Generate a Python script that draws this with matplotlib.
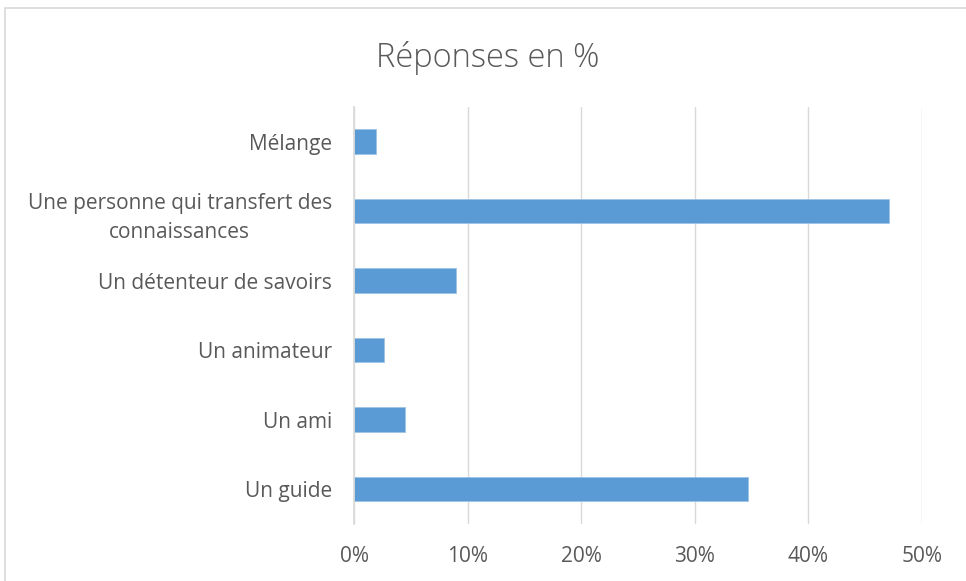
import matplotlib.pyplot as plt
from matplotlib.patches import Rectangle

# response categories, bottom to top
categories = ["Un guide", "Un ami", "Un animateur", "Un détenteur de savoirs",
              "Une personne qui transfert des\nconnaissances", "Mélange"]
percent = [34.7, 4.5, 2.6, 9.0, 47.1, 1.9]
xticks = [0, 10, 20, 30, 40, 50]
xtick_labels = ["0%", "10%", "20%", "30%", "40%", "50%"]

plt.rcParams["font.family"] = ["Open Sans", "DejaVu Sans"]
text_color = "#595959"
grid_color = "#d9d9d9"

fig = plt.figure(figsize=(9.66, 5.81), dpi=100)
ax = fig.add_axes([0.3665, 0.0985, 0.588, 0.7177])

ypos = range(len(categories))
ax.barh(ypos, percent, height=0.35, color="#5b9bd5", edgecolor="#9dc3e6", linewidth=0.6, zorder=3)

ax.set_xlim(0, 50)
ax.set_ylim(-0.5, len(categories) - 0.5)
ax.set_xticks(xticks)
ax.set_xticklabels(xtick_labels, fontsize=15, color=text_color)
ax.set_yticks(list(ypos))
ax.set_yticklabels(categories, fontsize=15, color=text_color, ha="right",
                   multialignment="center", linespacing=1.5)
ax.tick_params(axis="both", length=0)
ax.tick_params(axis="x", pad=16)
ax.tick_params(axis="y", pad=16)

ax.grid(axis="x", color=grid_color, linewidth=1, zorder=0)
for side in ["top", "right", "bottom"]:
    ax.spines[side].set_visible(False)
ax.spines["left"].set_color(grid_color)
ax.spines["left"].set_linewidth(1.2)
ax.spines["left"].set_zorder(4)

fig.text(0.505, 0.9, "Réponses en %", ha="center", va="center", fontsize=23.5,
         color=text_color, fontweight="light")

# light frame around the chart
fig.patches.append(Rectangle((0.005, -0.01), 1.2, 0.997, transform=fig.transFigure,
                             fill=False, edgecolor=grid_color, linewidth=1.2))

fig.savefig("out.png", dpi=100)
